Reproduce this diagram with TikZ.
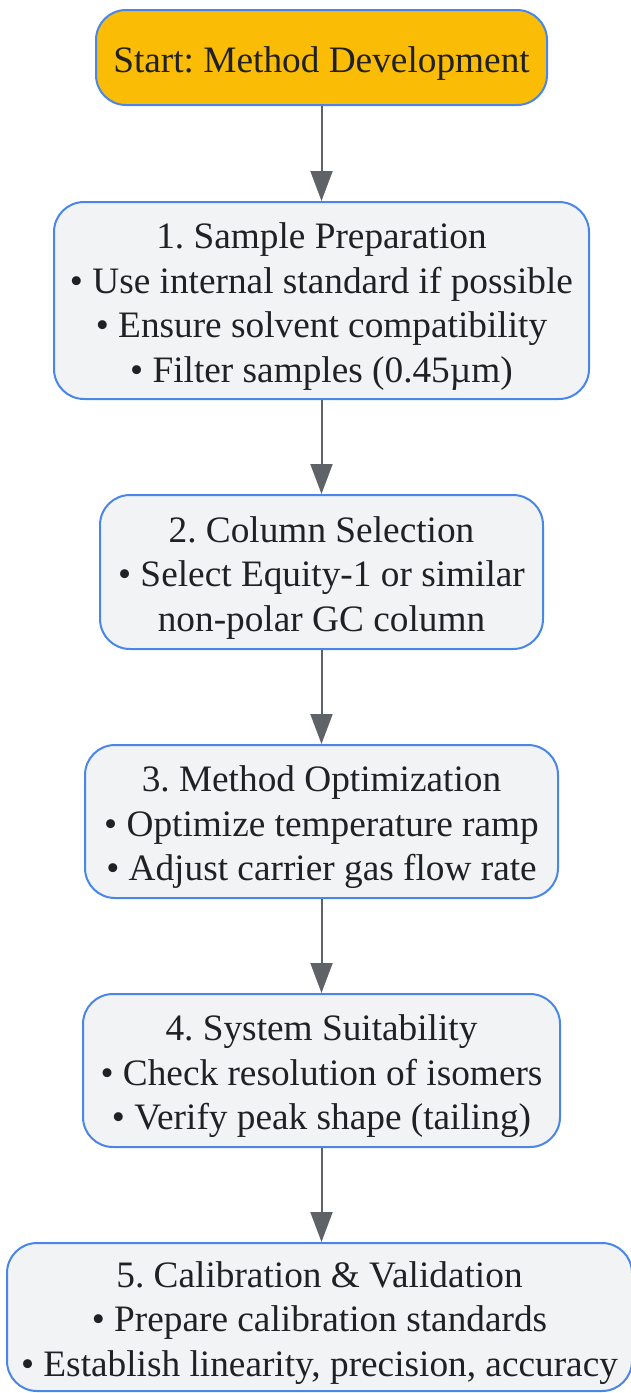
\documentclass[tikz,border=0pt]{standalone}
\usepackage{fontspec}
\setmainfont{Liberation Serif}
\usetikzlibrary{arrows.meta}
\definecolor{boxfill}{HTML}{F1F3F4}
\definecolor{boxline}{HTML}{4A86E8}
\definecolor{startfill}{HTML}{FBBC05}
\definecolor{arrowc}{HTML}{5F6368}
\definecolor{textc}{HTML}{202124}
\newcommand{\firststrut}{\rule{0pt}{37.5pt}}
\begin{document}
\begin{tikzpicture}[x=1pt,y=-1pt,
  box/.style={draw=boxline, line width=2pt, fill=boxfill, rounded corners=30pt,
    align=center, text=textc, font=\fontsize{37.3}{44.5}\selectfont\frenchspacing, inner sep=0pt},
  startbox/.style={box, fill=startfill},
  flow/.style={draw=arrowc, line width=2pt, -{Triangle[length=30pt,width=22pt]}}]
\useasboundingbox (0,0) rectangle (631,1393);
\node[startbox, minimum width=451pt, minimum height=95pt] (s) at (321.5,57.5) {\firststrut Start: Method Development};
\node[box, minimum width=535pt, minimum height=197pt] (n1) at (321.5,300.5)
  {\firststrut 1. Sample Preparation\\ • Use internal standard if possible\\ • Ensure solvent compatibility\\ • Filter samples (0.45µm)};
\node[box, minimum width=443pt, minimum height=154pt] (n2) at (321.5,572)
  {\firststrut 2. Column Selection\\ • Select Equity-1 or similar\\ non-polar GC column};
\node[box, minimum width=473pt, minimum height=153pt] (n3) at (321.5,821.5)
  {\firststrut 3. Method Optimization\\ • Optimize temperature ramp\\ • Adjust carrier gas flow rate};
\node[box, minimum width=477pt, minimum height=153pt] (n4) at (321.5,1070.5)
  {\firststrut 4. System Suitability\\ • Check resolution of isomers\\ • Verify peak shape (tailing)};
\node[box, minimum width=625pt, minimum height=148pt] (n5) at (319.5,1317)
  {\firststrut 5. Calibration \& Validation\\ • Prepare calibration standards\\ • Establish linearity, precision, accuracy};
\draw[flow] (s) -- (n1);
\draw[flow] (n1) -- (n2);
\draw[flow] (n2) -- (n3);
\draw[flow] (n3) -- (n4);
\draw[flow] (n4.south) -- (n4.south |- n5.north);
\end{tikzpicture}
\end{document}
